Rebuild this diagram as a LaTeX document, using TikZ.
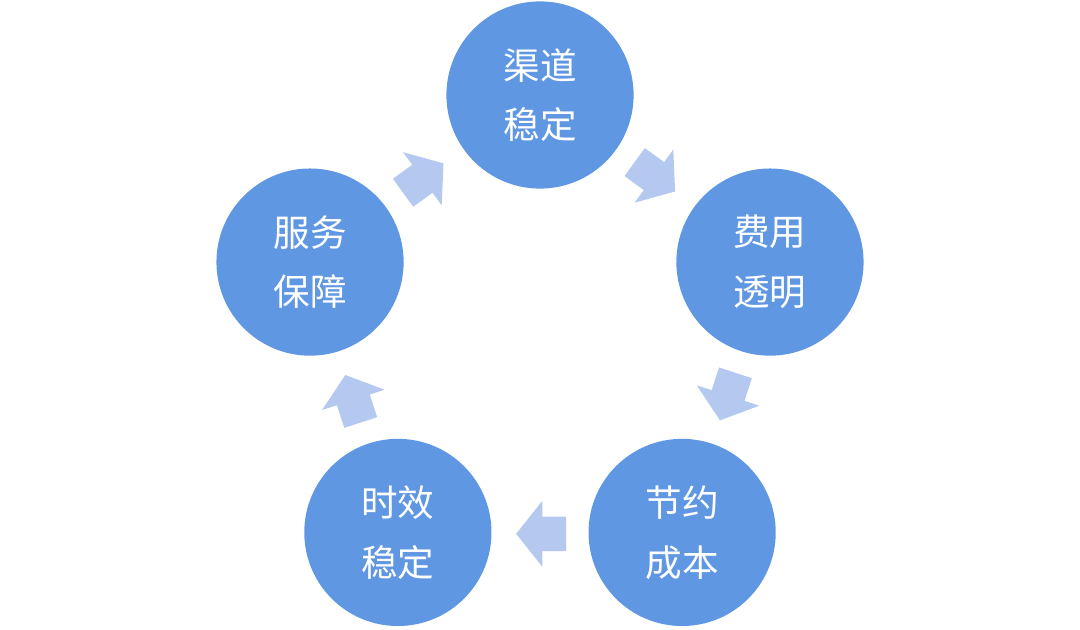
\documentclass[tikz,border=0pt]{standalone}
\usepackage{fontspec}
\newfontfamily\cjk{Noto Sans CJK SC}
\usetikzlibrary{shapes.arrows,calc}

\definecolor{ballblue}{RGB}{96,151,227}
\definecolor{arrowblue}{RGB}{181,201,240}

\tikzset{
  ball/.style={circle, fill=ballblue, draw=none, minimum size=4.68cm,
    text=white, font=\cjk\fontsize{26}{42.5}\selectfont, align=center},
  turnarrow/.style={single arrow, fill=arrowblue, draw=none,
    inner xsep=0pt, inner ysep=0.425cm, minimum height=1.25cm,
    single arrow head extend=0.39cm, single arrow tip angle=103}
}

\begin{document}
\begin{tikzpicture}
    \useasboundingbox (0,0) rectangle (27,15.725);
    % Centre of the ring
    \coordinate (C) at (13.5,7.305);

    % Circles on a pentagon
    \node[ball] (qudao) at ($(C)+(90:6.045)$) {渠道\\稳定};
    \node[ball] (feiyong) at ($(C)+(18:6.045)$) {费用\\透明};
    \node[ball] (chengben) at ($(C)+(-54:6.045)$) {节约\\成本};
    \node[ball] (shixiao) at ($(C)+(-126:6.045)$) {时效\\稳定};
    \node[ball] (fuwu) at ($(C)+(162:6.045)$) {服务\\保障};

    % Arrows between circles, clockwise
    \foreach \a/\n in {54/a1, -18/a2, -90/a3, -162/a4, 126/a5}
      \node[turnarrow, rotate=\a-90] (\n) at ($(C)+(\a:4.925)+(\a+90:0.2)$) {};
\end{tikzpicture}
\end{document}
